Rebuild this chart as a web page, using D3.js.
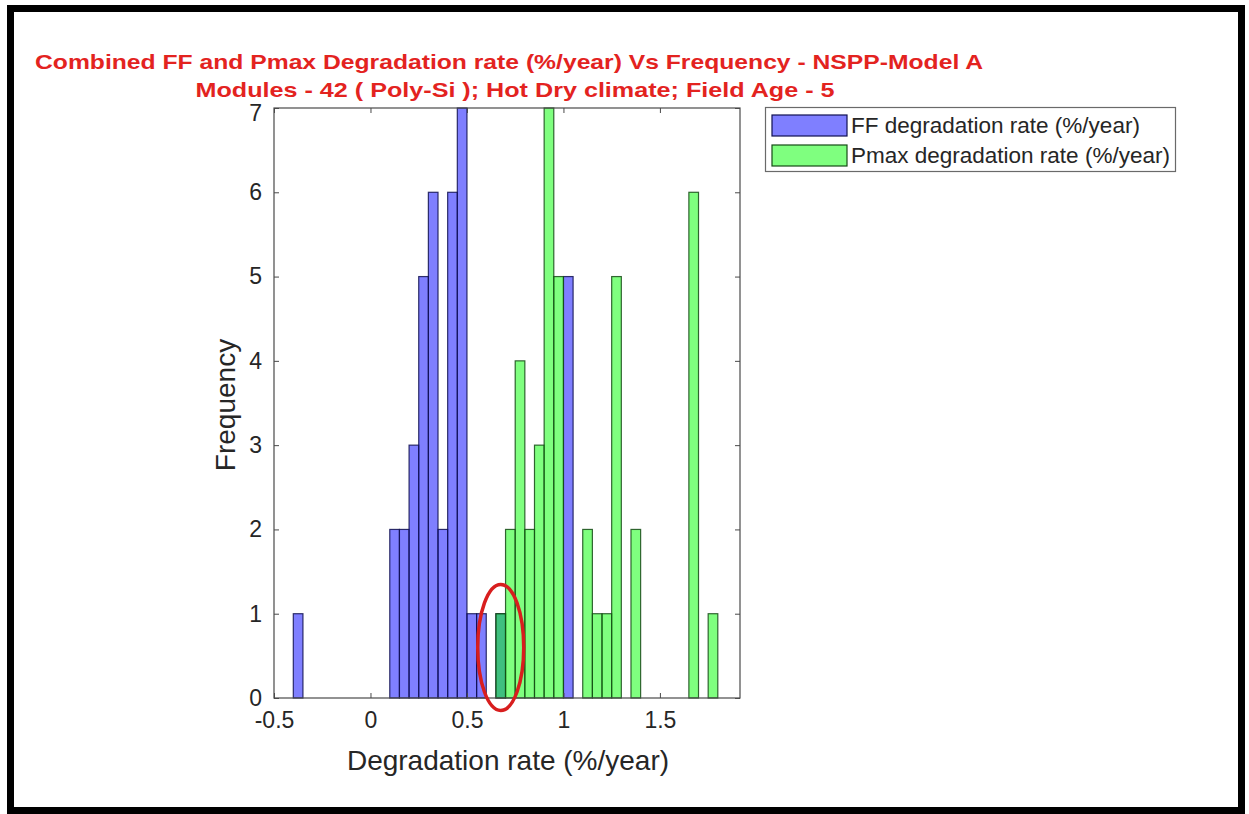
<!DOCTYPE html>
<html>
<head>
<meta charset="utf-8">
<script src="https://cdn.jsdelivr.net/npm/d3@7"></script>
<style>
  html, body { margin: 0; padding: 0; background: #fff; }
  svg { display: block; }
  text { font-family: "Liberation Sans", Arial, sans-serif; }
</style>
</head>
<body>
<svg id="chart" width="1249" height="814"></svg>
<script>
// ---- data ----
const binWidth = 0.05;
// FF degradation rate histogram: bin start (%/year) and count
const ffBinStarts = [-0.40, 0.10, 0.15, 0.20, 0.25, 0.30, 0.35, 0.40, 0.45, 0.50, 0.55, 0.65, 1.00];
const ffCounts    = [1,     2,    2,    3,    5,    6,    2,    6,    7,    1,    1,    1,    5];
// Pmax degradation rate histogram
const pmaxBinStarts = [0.65, 0.70, 0.75, 0.80, 0.85, 0.90, 0.95, 1.10, 1.15, 1.20, 1.25, 1.35, 1.65, 1.75];
const pmaxCounts    = [1,    2,    4,    2,    3,    7,    5,    2,    1,    1,    5,    2,    6,    1];
const xTicks = [-0.5, 0, 0.5, 1, 1.5];
const xTickLabels = ["-0.5", "0", "0.5", "1", "1.5"];
const yTicks = [0, 1, 2, 3, 4, 5, 6, 7];
const seriesNames = ["FF degradation rate (%/year)", "Pmax degradation rate (%/year)"];
const titleLines = [
  "Combined FF and Pmax Degradation rate (%/year) Vs Frequency - NSPP-Model A",
  "Modules - 42 ( Poly-Si ); Hot Dry climate; Field Age - 5"
];
const xLabel = "Degradation rate (%/year)";
const yLabel = "Frequency";

// ---- layout ----
const svg = d3.select("#chart");
const plot = { left: 274, right: 740, top: 108, bottom: 698 };
const x = d3.scaleLinear().domain([-0.5, 1.915]).range([plot.left, plot.right]);
const y = d3.scaleLinear().domain([0, 7]).range([plot.bottom, plot.top]);
const axisColor = "#4a4a4a";
const textColor = "#262626";

// outer black frame
svg.append("rect")
  .attr("x", 10.5).attr("y", 8.5)
  .attr("width", 1231).attr("height", 802)
  .attr("fill", "#fff").attr("stroke", "#000").attr("stroke-width", 7);

// title
svg.append("text").text(titleLines[0])
  .attr("x", 509).attr("y", 69).attr("text-anchor", "middle")
  .attr("font-size", 21).attr("font-weight", "bold").attr("fill", "#e3231f")
  .attr("textLength", 948).attr("lengthAdjust", "spacingAndGlyphs");
svg.append("text").text(titleLines[1])
  .attr("x", 515).attr("y", 97).attr("text-anchor", "middle")
  .attr("font-size", 21).attr("font-weight", "bold").attr("fill", "#e3231f")
  .attr("textLength", 639).attr("lengthAdjust", "spacingAndGlyphs");

// bars
function drawBars(starts, counts, color, edge) {
  svg.append("g").selectAll("rect")
    .data(starts.map((s, i) => ({ s, c: counts[i] })))
    .join("rect")
    .attr("x", d => x(d.s))
    .attr("width", d => x(d.s + binWidth) - x(d.s))
    .attr("y", d => y(d.c))
    .attr("height", d => y(0) - y(d.c))
    .attr("fill", color).attr("fill-opacity", 0.5)
    .attr("stroke", edge).attr("stroke-width", 1.2).attr("stroke-opacity", 0.85);
}
drawBars(ffBinStarts, ffCounts, "#0000ff", "#101050");
drawBars(pmaxBinStarts, pmaxCounts, "#00ff00", "#154a15");

// axes box
svg.append("rect")
  .attr("x", plot.left).attr("y", plot.top)
  .attr("width", plot.right - plot.left).attr("height", plot.bottom - plot.top)
  .attr("fill", "none").attr("stroke", axisColor).attr("stroke-width", 1.2);

// ticks (inward) using d3 axes
const tickLen = 5;
const xAxisB = d3.axisBottom(x).tickValues(xTicks).tickFormat((d, i) => xTickLabels[i])
  .tickSizeInner(-tickLen).tickSizeOuter(0).tickPadding(14);
const gxb = svg.append("g").attr("transform", `translate(0,${plot.bottom})`).call(xAxisB);
gxb.select(".domain").remove();
gxb.selectAll("line").attr("stroke", axisColor);
gxb.selectAll("text").attr("font-size", 23).attr("fill", textColor).attr("font-family", "Liberation Sans, Arial, sans-serif");

const gxt = svg.append("g").attr("transform", `translate(0,${plot.top})`)
  .call(d3.axisTop(x).tickValues(xTicks).tickFormat("").tickSizeInner(-tickLen).tickSizeOuter(0));
gxt.select(".domain").remove();
gxt.selectAll("line").attr("stroke", axisColor);

const gyl = svg.append("g").attr("transform", `translate(${plot.left},0)`)
  .call(d3.axisLeft(y).tickValues(yTicks).tickFormat(d3.format("d")).tickSizeInner(-tickLen).tickSizeOuter(0).tickPadding(12));
gyl.select(".domain").remove();
gyl.selectAll("line").attr("stroke", axisColor);
gyl.selectAll("text").attr("font-size", 23).attr("fill", textColor).attr("font-family", "Liberation Sans, Arial, sans-serif");
// top label sits just under the title, as in the reference
gyl.selectAll(".tick").filter(d => d === 7).select("text").attr("dy", "0.55em");

const gyr = svg.append("g").attr("transform", `translate(${plot.right},0)`)
  .call(d3.axisRight(y).tickValues(yTicks).tickFormat("").tickSizeInner(-tickLen).tickSizeOuter(0));
gyr.select(".domain").remove();
gyr.selectAll("line").attr("stroke", axisColor);

// axis labels
svg.append("text").text(xLabel)
  .attr("x", 508).attr("y", 770).attr("text-anchor", "middle")
  .attr("font-size", 28).attr("fill", textColor);
svg.append("text").text(yLabel)
  .attr("transform", `translate(235,405) rotate(-90)`).attr("text-anchor", "middle")
  .attr("font-size", 28).attr("fill", textColor);

// annotation ellipse around overlapping bin
svg.append("ellipse")
  .attr("cx", x(0.675)).attr("cy", y(0.6))
  .attr("rx", 23).attr("ry", 63)
  .attr("fill", "none").attr("stroke", "#d81e1e").attr("stroke-width", 3.5);

// legend
const lg = svg.append("g");
lg.append("rect").attr("x", 765.5).attr("y", 107.5).attr("width", 410).attr("height", 64)
  .attr("fill", "#fff").attr("stroke", "#6a6a6a").attr("stroke-width", 1.2);
const legendItems = [
  { name: seriesNames[0], color: "#0000ff", edge: "#101050" },
  { name: seriesNames[1], color: "#00ff00", edge: "#154a15" }
];
legendItems.forEach((it, i) => {
  const yy = 115 + i * 30;
  lg.append("rect").attr("x", 772).attr("y", yy).attr("width", 75).attr("height", 21)
    .attr("fill", it.color).attr("fill-opacity", 0.5)
    .attr("stroke", it.edge).attr("stroke-width", 1.2);
  lg.append("text").text(it.name).attr("x", 851).attr("y", yy + 18)
    .attr("font-size", 22.5).attr("fill", textColor);
});
</script>
</body>
</html>
